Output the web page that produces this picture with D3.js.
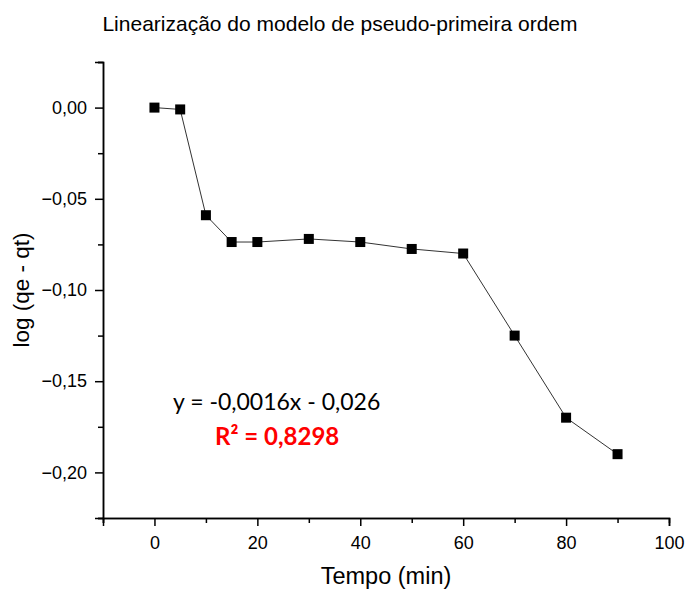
<!DOCTYPE html>
<html>
<head>
<meta charset="utf-8">
<script src="https://cdn.jsdelivr.net/npm/d3@7"></script>
<style>
  body { margin: 0; background: #fff; }
  svg { display: block; }
</style>
</head>
<body>
<div id="chart"></div>
<script>
// Data
const tempo = [0, 5, 10, 15, 20, 30, 40, 50, 60, 70, 80, 90];
const logQ = [0.000, -0.001, -0.059, -0.0737, -0.0737, -0.072, -0.0737, -0.0775, -0.080, -0.125, -0.170, -0.190];
const xTicks = [0, 20, 40, 60, 80, 100];
const yTicks = [0, -0.05, -0.10, -0.15, -0.20];

const width = 686, height = 590;
const plot = { left: 103, right: 669, top: 62, bottom: 518 };

const svg = d3.select("#chart").append("svg")
    .attr("width", width)
    .attr("height", height);

// Scales
const x = d3.scaleLinear().domain([-10, 100]).range([plot.left, plot.right]);
const y = d3.scaleLinear().domain([-0.225, 0.025]).range([plot.bottom, plot.top]);

const fmt = d => d3.format(".2f")(d).replace(".", ",").replace("-", "\u2212");

// Minor ticks
const xMinor = d3.range(-10, 101, 10).filter(v => v % 20 !== 0);
const yMinor = [0.025, -0.025, -0.075, -0.125, -0.175, -0.225];

const xAxisG = svg.append("g")
    .attr("transform", `translate(0,${plot.bottom})`);
xAxisG.call(d3.axisBottom(x).tickValues(xMinor).tickSize(5).tickFormat(""));
xAxisG.append("g").call(d3.axisBottom(x).tickValues(xTicks).tickSize(8).tickPadding(10));

const yAxisG = svg.append("g")
    .attr("transform", `translate(${plot.left},0)`);
yAxisG.call(d3.axisLeft(y).tickValues(yMinor).tickSize(5).tickFormat(""));
yAxisG.append("g").call(d3.axisLeft(y).tickValues(yTicks).tickSize(8).tickPadding(8).tickFormat(fmt));

svg.selectAll(".domain").attr("stroke", "#000").attr("stroke-width", 1.5);
svg.selectAll(".tick line").attr("stroke", "#000").attr("stroke-width", 1.5);
svg.selectAll(".tick text")
    .attr("font-family", "Liberation Sans, Arial, sans-serif")
    .attr("font-size", 18)
    .attr("fill", "#000");

// Title and axis labels
svg.append("text")
    .attr("x", 340).attr("y", 31)
    .attr("text-anchor", "middle")
    .attr("font-family", "Liberation Sans, Arial, sans-serif")
    .attr("font-size", 21)
    .text("Linearização do modelo de pseudo-primeira ordem");

svg.append("text")
    .attr("x", 386).attr("y", 584)
    .attr("text-anchor", "middle")
    .attr("font-family", "Liberation Sans, Arial, sans-serif")
    .attr("font-size", 23.5)
    .text("Tempo (min)");

svg.append("text")
    .attr("transform", `translate(29,${(plot.top + plot.bottom) / 2}) rotate(-90)`)
    .attr("text-anchor", "middle")
    .attr("font-family", "Liberation Sans, Arial, sans-serif")
    .attr("font-size", 22.5)
    .text("log (qe - qt)");

// Line and markers
const line = d3.line()
    .x((d, i) => x(tempo[i]))
    .y(d => y(d));

svg.append("path")
    .datum(logQ)
    .attr("fill", "none")
    .attr("stroke", "#333")
    .attr("stroke-width", 1)
    .attr("d", line);

const sz = 10;
svg.selectAll(".pt")
    .data(logQ)
    .enter()
    .append("rect")
    .attr("class", "pt")
    .attr("x", (d, i) => x(tempo[i]) - sz / 2)
    .attr("y", d => y(d) - sz / 2)
    .attr("width", sz)
    .attr("height", sz)
    .attr("fill", "#000");

// Regression annotation
svg.append("text")
    .attr("x", 173).attr("y", 410)
    .attr("font-family", "Lato, 'Open Sans', sans-serif")
    .attr("font-size", 23)
    .attr("fill", "#000")
    .text("y = -0,0016x - 0,026");

svg.append("text")
    .attr("x", 215).attr("y", 445)
    .attr("font-family", "Lato, 'Open Sans', sans-serif")
    .attr("font-size", 24)
    .attr("font-weight", "bold")
    .attr("fill", "#ff0000")
    .text("R² = 0,8298");
</script>
</body>
</html>
